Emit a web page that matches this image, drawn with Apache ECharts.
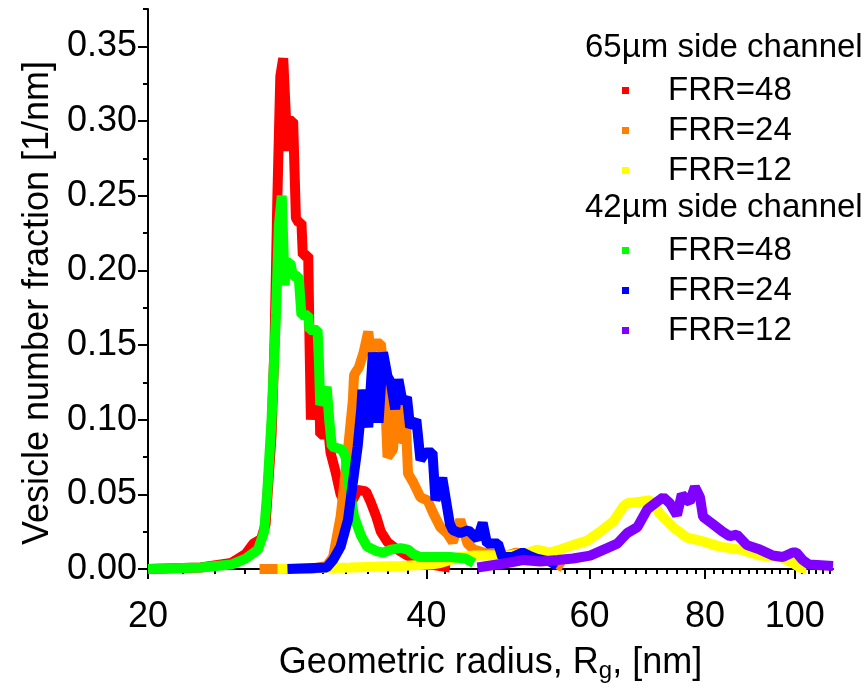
<!DOCTYPE html>
<html>
<head>
<meta charset="utf-8">
<script src="https://cdn.jsdelivr.net/npm/echarts@6/dist/echarts.min.js"></script>
<style>
html,body{margin:0;padding:0;background:#fff;}
#chart{width:868px;height:698px;}
</style>
</head>
<body>
<div id="chart"></div>
<script>
// ---- data (x = geometric radius in nm, y = vesicle number fraction in 1/nm) ----
const seriesNames = [
  '65µm side channel, FRR=48',
  '65µm side channel, FRR=24',
  '65µm side channel, FRR=12',
  '42µm side channel, FRR=48',
  '42µm side channel, FRR=24',
  '42µm side channel, FRR=12'
];
const groupTitles = ['65µm side channel', '42µm side channel'];
const seriesColors = ['#ff0000', '#ff8000', '#ffff00', '#00ff00', '#0000ff', '#8000ff'];

const ch65frr48 = [[20.0,0],[22.8,0.001],[24.6,0.004],[25.5,0.01],[26.0,0.017],[26.5,0.02],[26.8,0.03],[27.0,0.06],[27.2,0.09],[27.4,0.15],[27.6,0.25],[27.8,0.33],[28.0,0.342],[28.1,0.342],[28.3,0.28],[28.4,0.29],[28.5,0.30],[28.7,0.30],[28.9,0.235],[29.1,0.232],[29.3,0.232],[29.4,0.21],[29.6,0.21],[29.8,0.21],[29.9,0.15],[30.0,0.10],[30.2,0.12],[30.4,0.135],[30.6,0.13],[30.7,0.09],[31.1,0.09],[31.3,0.095],[31.5,0.078],[31.9,0.065],[32.3,0.05],[32.9,0.04],[33.4,0.048],[33.7,0.053],[34.4,0.052],[34.8,0.045],[35.3,0.035],[35.7,0.025],[36.3,0.018],[37.0,0.014],[37.9,0.01],[38.7,0.007],[39.4,0.004],[40.4,0.003],[41.4,0.002],[42.4,0.001]];
const ch65frr24 = [[26.4,0],[30.0,0],[31.2,0.002],[31.7,0.008],[32.3,0.035],[32.9,0.08],[33.3,0.113],[33.4,0.13],[33.8,0.135],[34.2,0.145],[34.6,0.159],[34.8,0.145],[35.1,0.151],[35.7,0.151],[36.0,0.129],[36.3,0.075],[36.8,0.08],[37.2,0.127],[37.3,0.085],[37.7,0.09],[37.9,0.115],[38.2,0.064],[38.7,0.058],[39.4,0.048],[40.1,0.046],[40.7,0.037],[41.4,0.028],[42.1,0.024],[42.7,0.018],[43.5,0.033],[44.3,0.017],[45.0,0.013],[46.1,0.011],[48.9,0.009],[50.0,0.011],[51.6,0.009],[54.4,0.006],[56.2,0.001]];
const ch65frr12 = [[27.6,0],[33.1,0.001],[37.5,0.002],[40.4,0.003],[41.4,0.004],[43.5,0.008],[45.0,0.009],[46.9,0.009],[48.9,0.009],[51.6,0.011],[52.6,0.013],[54.4,0.011],[55.8,0.013],[57.6,0.016],[59.7,0.019],[61.6,0.025],[63.7,0.032],[65.3,0.042],[65.9,0.044],[68.1,0.045],[69.8,0.046],[71.5,0.037],[73.9,0.028],[76.5,0.021],[79.0,0.019],[83.0,0.015],[87.3,0.013],[91.7,0.009],[96.4,0.008],[99.5,0.004],[101.3,0.001],[103.0,0]];
const ch42frr48 = [[20.0,0],[22.8,0.001],[24.6,0.003],[25.5,0.007],[26.3,0.013],[26.7,0.025],[26.9,0.05],[27.2,0.10],[27.5,0.17],[27.7,0.23],[27.9,0.25],[28.0,0.25],[28.1,0.19],[28.2,0.205],[28.5,0.205],[28.7,0.196],[29.1,0.196],[29.3,0.17],[29.8,0.17],[29.9,0.16],[30.5,0.16],[30.6,0.14],[30.7,0.11],[31.0,0.115],[31.2,0.122],[31.4,0.10],[31.6,0.082],[32.4,0.08],[32.7,0.075],[33.1,0.05],[33.4,0.035],[34.0,0.022],[34.5,0.015],[35.3,0.012],[35.9,0.011],[36.6,0.013],[37.5,0.014],[38.2,0.013],[38.7,0.01],[39.4,0.008],[42.4,0.008],[44.1,0.007],[45.0,0.004]];
const ch42frr24 = [[28.3,0],[31.2,0.001],[31.7,0.006],[32.3,0.015],[32.9,0.033],[33.3,0.058],[33.7,0.082],[34.0,0.107],[34.1,0.12],[34.2,0.12],[34.6,0.095],[35.0,0.145],[35.5,0.098],[35.9,0.145],[36.3,0.129],[36.6,0.125],[37.0,0.107],[37.3,0.127],[37.7,0.111],[38.1,0.115],[38.4,0.095],[39.0,0.10],[39.4,0.073],[39.9,0.078],[40.6,0.078],[40.9,0.046],[41.6,0.061],[42.4,0.03],[42.7,0.026],[43.5,0.024],[44.4,0.026],[45.4,0.02],[46.0,0.031],[46.5,0.017],[47.8,0.017],[48.3,0.008],[49.5,0.008],[50.8,0.011],[51.6,0.009],[52.6,0.007],[54.4,0.005],[55.4,0.002]];
const ch42frr12 = [[45.4,0.001],[48.9,0.004],[50.8,0.006],[53.1,0.005],[55.4,0.006],[57.6,0.007],[60.1,0.009],[62.7,0.014],[64.3,0.017],[65.9,0.024],[67.6,0.028],[69.3,0.04],[71.0,0.045],[72.1,0.048],[73.3,0.044],[74.6,0.036],[75.5,0.05],[76.5,0.046],[77.0,0.045],[78.0,0.055],[79.0,0.048],[79.6,0.035],[81.6,0.03],[83.6,0.025],[85.1,0.022],[86.6,0.023],[88.8,0.016],[91.7,0.013],[94.7,0.009],[97.1,0.008],[99.5,0.011],[100.4,0.011],[102.0,0.006],[103.6,0.003],[110.0,0.002]];
const seriesData = [ch65frr48, ch65frr24, ch65frr12, ch42frr48, ch42frr24, ch42frr12];

// ---- ticks ----
const xMajorTicks = [20, 40, 60, 80, 100];
const xMinorTicks = [21.82,23.64,25.45,27.27,29.09,30.91,32.73,34.55,36.36,38.18,
  41.82,43.64,45.45,47.27,49.09,50.91,52.73,54.55,56.36,58.18,
  61.82,63.64,65.45,67.27,69.09,70.91,72.73,74.55,76.36,78.18,
  81.82,83.64,85.45,87.27,89.09,90.91,92.73,94.55,96.36,98.18,
  101.82,103.64,105.45,107.27,109.09];
const yMajorTicks = [0, 0.05, 0.10, 0.15, 0.20, 0.25, 0.30, 0.35];
const yMinorTicks = [0.025, 0.075, 0.125, 0.175, 0.225, 0.275, 0.325, 0.375];
const xRange = [20, 110];
const yRange = [0, 0.375];

const FONT = "'Liberation Sans', Arial, sans-serif";
const chart = echarts.init(document.getElementById('chart'), null, {renderer: 'canvas'});

const axisLineStyle = {color: '#000', width: 2};
const legendCommon = {
  orient: 'vertical', left: 617, icon: 'rect', itemWidth: 7, itemHeight: 7, itemGap: 7,
  selectedMode: false,
  textStyle: {fontFamily: FONT, fontSize: 33, color: '#000', padding: [0, 0, 0, 34]},
  formatter: function (name) { return name.split(', ')[1]; }
};

const option = {
  animation: false,
  backgroundColor: '#fff',
  grid: {left: 148, right: 35, top: 9, bottom: 129, containLabel: false, outerBoundsMode: 'none'},
  xAxis: [
    {
      type: 'log', logBase: 10, min: xRange[0], max: xRange[1], position: 'bottom',
      name: '{a|Geometric radius, R}{s|g}{a|, [nm]}',
      nameLocation: 'middle', nameGap: 74,
      nameTextStyle: {
        rich: {
          a: {fontFamily: FONT, fontSize: 36, color: '#000'},
          s: {fontFamily: FONT, fontSize: 24, color: '#000', verticalAlign: 'bottom', padding: [16, 0, 0, 0]}
        }
      },
      axisLine: {show: true, lineStyle: axisLineStyle},
      axisTick: {show: true, inside: false, length: 10, lineStyle: axisLineStyle, customValues: xMajorTicks},
      axisLabel: {show: true, customValues: xMajorTicks, margin: 30, fontFamily: FONT, fontSize: 36, color: '#000'},
      splitLine: {show: false},
      minorTick: {show: false}
    },
    {
      type: 'log', logBase: 10, min: xRange[0], max: xRange[1], position: 'bottom',
      axisLine: {show: false},
      axisTick: {show: true, inside: false, length: 5, lineStyle: axisLineStyle, customValues: xMinorTicks},
      axisLabel: {show: false},
      splitLine: {show: false}
    }
  ],
  yAxis: [
    {
      type: 'value', min: yRange[0], max: yRange[1], position: 'left',
      name: 'Vesicle number fraction [1/nm]',
      nameLocation: 'middle', nameGap: 92,
      nameTextStyle: {fontFamily: FONT, fontSize: 36, color: '#000', padding: [0, 28, 0, 0]},
      axisLine: {show: true, lineStyle: axisLineStyle},
      axisTick: {show: true, inside: false, length: 10, lineStyle: axisLineStyle, customValues: yMajorTicks},
      axisLabel: {show: true, customValues: yMajorTicks, margin: 11, fontFamily: FONT, fontSize: 36, color: '#000',
        formatter: function (v) { return v.toFixed(2); }},
      splitLine: {show: false}
    },
    {
      type: 'value', min: yRange[0], max: yRange[1], position: 'left',
      axisLine: {show: false},
      axisTick: {show: true, inside: false, length: 5, lineStyle: axisLineStyle, customValues: yMinorTicks},
      axisLabel: {show: false},
      splitLine: {show: false}
    }
  ],
  legend: [
    Object.assign({}, legendCommon, {top: 69, data: seriesNames.slice(0, 3)}),
    Object.assign({}, legendCommon, {top: 229, data: seriesNames.slice(3, 6)})
  ],
  graphic: [
    {type: 'text', left: 585, top: 31, style: {text: groupTitles[0], font: '33px ' + FONT, fill: '#000'}},
    {type: 'text', left: 585, top: 191, style: {text: groupTitles[1], font: '33px ' + FONT, fill: '#000'}}
  ],
  series: seriesNames.map(function (name, i) {
    return {
      name: name,
      type: 'line',
      xAxisIndex: 0,
      yAxisIndex: 0,
      data: seriesData[i],
      showSymbol: false,
      symbol: 'none',
      color: seriesColors[i],
      lineStyle: {width: 10, color: seriesColors[i], join: 'bevel'},
      itemStyle: {color: seriesColors[i]},
      z: 2 + i
    };
  })
};
chart.setOption(option);
</script>
</body>
</html>
